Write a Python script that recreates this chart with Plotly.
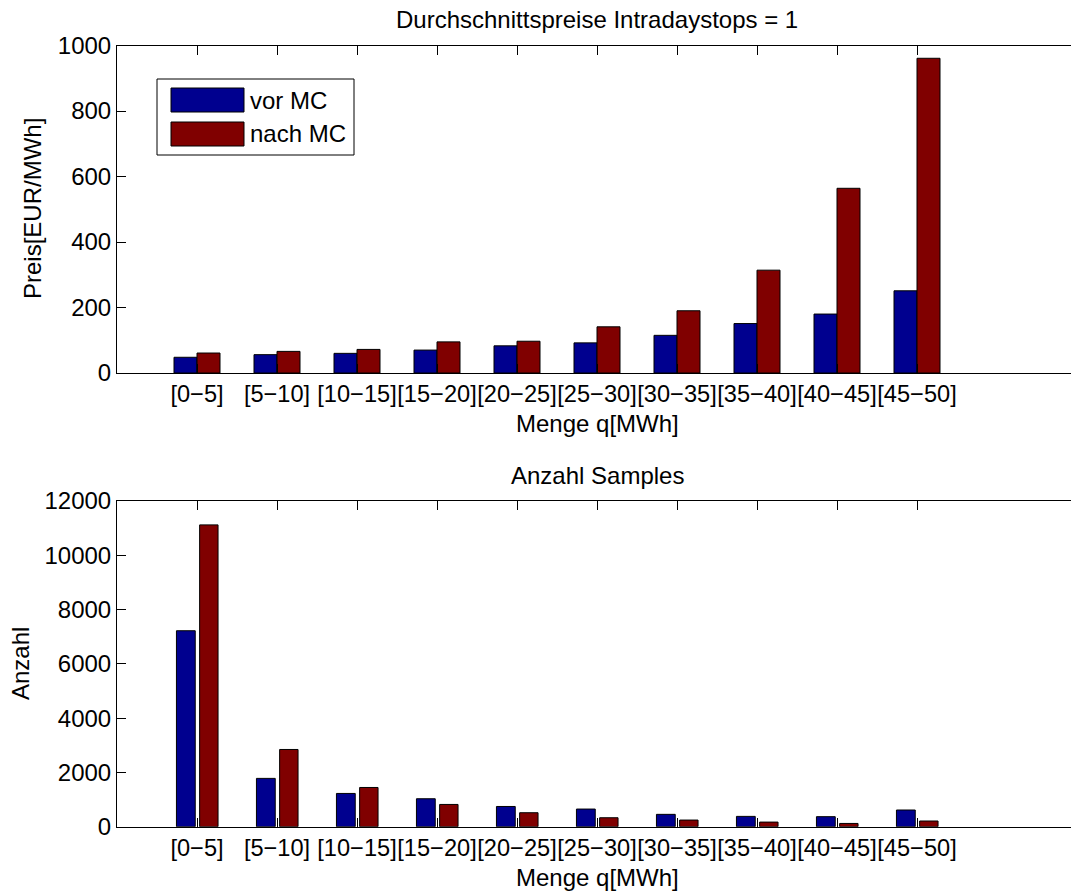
import plotly.graph_objects as go

# Mengenklassen (MWh) und Positionen auf der x-Achse
categories = ["[0−5]", "[5−10]", "[10−15]", "[15−20]", "[20−25]",
              "[25−30]", "[30−35]", "[35−40]", "[40−45]", "[45−50]"]
positions = list(range(1, len(categories) + 1))

# Durchschnittspreise (EUR/MWh)
preis_vor_mc = [48, 56, 60, 70, 83, 92, 115, 151, 180, 251]
preis_nach_mc = [61, 66, 72, 95, 97, 141, 190, 314, 564, 961]

# Anzahl Samples je Klasse
anzahl_vor_mc = [7220, 1780, 1225, 1030, 745, 650, 455, 380, 370, 615]
anzahl_nach_mc = [11120, 2845, 1445, 820, 515, 330, 245, 170, 120, 210]

series_names = ["vor MC", "nach MC"]
preis_ticks = [0, 200, 400, 600, 800, 1000]
anzahl_ticks = [0, 2000, 4000, 6000, 8000, 10000, 12000]

BLUE = "rgb(0,0,143)"
RED = "rgb(128,0,0)"
FONT = "Liberation Sans, Arial, Helvetica, sans-serif"
FS = 24

W, H = 1071, 895
ML = 117
PW = W - ML


def px(xp):
    return (xp - ML) / PW


def py(yp):
    return 1 - yp / H


fig = go.Figure()

# oberes Diagramm: Preise
fig.add_trace(go.Bar(x=positions, y=preis_vor_mc, name=series_names[0],
                     width=0.2875, offset=-0.2875, xaxis="x", yaxis="y",
                     marker=dict(color=BLUE, line=dict(color="black", width=1)),
                     showlegend=False))
fig.add_trace(go.Bar(x=positions, y=preis_nach_mc, name=series_names[1],
                     width=0.2875, offset=0.0, xaxis="x", yaxis="y",
                     marker=dict(color=RED, line=dict(color="black", width=1)),
                     showlegend=False))

# unteres Diagramm: Anzahl
fig.add_trace(go.Bar(x=positions, y=anzahl_vor_mc, name=series_names[0],
                     width=0.235, offset=-0.257, xaxis="x2", yaxis="y2",
                     marker=dict(color=BLUE, line=dict(color="black", width=1)),
                     showlegend=False))
fig.add_trace(go.Bar(x=positions, y=anzahl_nach_mc, name=series_names[1],
                     width=0.23, offset=0.033, xaxis="x2", yaxis="y2",
                     marker=dict(color=RED, line=dict(color="black", width=1)),
                     showlegend=False))

xrange = [0, PW / 80.0]
top_dom = [py(373), py(45.5)]
bot_dom = [py(826.7), py(501)]

xcommon = dict(range=xrange, tickvals=positions, ticktext=categories, tickangle=0,
               ticks="inside", ticklen=9, tickcolor="black", showline=True,
               linecolor="black", linewidth=1, mirror="ticks", showgrid=False,
               zeroline=False, tickfont=dict(family=FONT, size=23.6, color="black"),
               domain=[0, 1], automargin=False)
ycommon = dict(ticks="inside", ticklen=9, tickcolor="black", showline=True,
               linecolor="black", linewidth=1, mirror=False, showgrid=False,
               zeroline=False, tickfont=dict(family=FONT, size=FS, color="black"),
               automargin=False)
yright = dict(ticks="inside", ticklen=3, tickcolor="black", showline=False,
              showgrid=False, zeroline=False, showticklabels=False, side="right",
              automargin=False)

fig.update_layout(
    width=W, height=H, autosize=False,
    margin=dict(l=ML, r=0, t=0, b=0, pad=0, autoexpand=False),
    paper_bgcolor="white", plot_bgcolor="white",
    barmode="group",
    xaxis=dict(anchor="y", **xcommon),
    yaxis=dict(anchor="x", domain=top_dom, range=[0, 1000], tickvals=preis_ticks,
               ticktext=[str(v) for v in preis_ticks], **ycommon),
    xaxis2=dict(anchor="y2", **xcommon),
    yaxis2=dict(anchor="x2", domain=bot_dom, range=[0, 12000], tickvals=anzahl_ticks,
                ticktext=[str(v) for v in anzahl_ticks], **ycommon),
    yaxis3=dict(anchor="x", overlaying="y", range=[0, 1000], tickvals=preis_ticks, **yright),
    yaxis4=dict(anchor="x2", overlaying="y2", range=[0, 12000], tickvals=anzahl_ticks, **yright),
    font=dict(family=FONT, size=FS, color="black"),
)

# Titel und Achsenbeschriftungen
texts = [
    ("Durchschnittspreise Intradaystops = 1", 597, 20, 0),
    ("Menge q[MWh]", 597, 423, 0),
    ("Anzahl Samples", 597, 475, 0),
    ("Menge q[MWh]", 597, 877, 0),
    ("Preis[EUR/MWh]", 32, 209, -90),
    ("Anzahl", 20, 664, -90),
]
for t, xp, yp, ang in texts:
    fig.add_annotation(text=t, x=px(xp), y=py(yp), xref="paper", yref="paper",
                       showarrow=False, textangle=ang, xanchor="center", yanchor="middle",
                       font=dict(family=FONT, size=FS, color="black"))

# Legende
fig.add_shape(type="rect", xref="paper", yref="paper",
              x0=px(157), x1=px(354), y0=py(155), y1=py(79),
              line=dict(color="black", width=1), fillcolor="white")
for name, color, y0, y1 in [(series_names[0], BLUE, 88, 112), (series_names[1], RED, 122, 146)]:
    fig.add_shape(type="rect", xref="paper", yref="paper",
                  x0=px(171), x1=px(244), y0=py(y1), y1=py(y0),
                  line=dict(color="black", width=1), fillcolor=color)
    fig.add_annotation(text=name, x=px(248), y=py((y0 + y1) / 2), xref="paper", yref="paper",
                       showarrow=False, xanchor="left", yanchor="middle",
                       font=dict(family=FONT, size=FS, color="black"))

fig.write_html("out.html")
